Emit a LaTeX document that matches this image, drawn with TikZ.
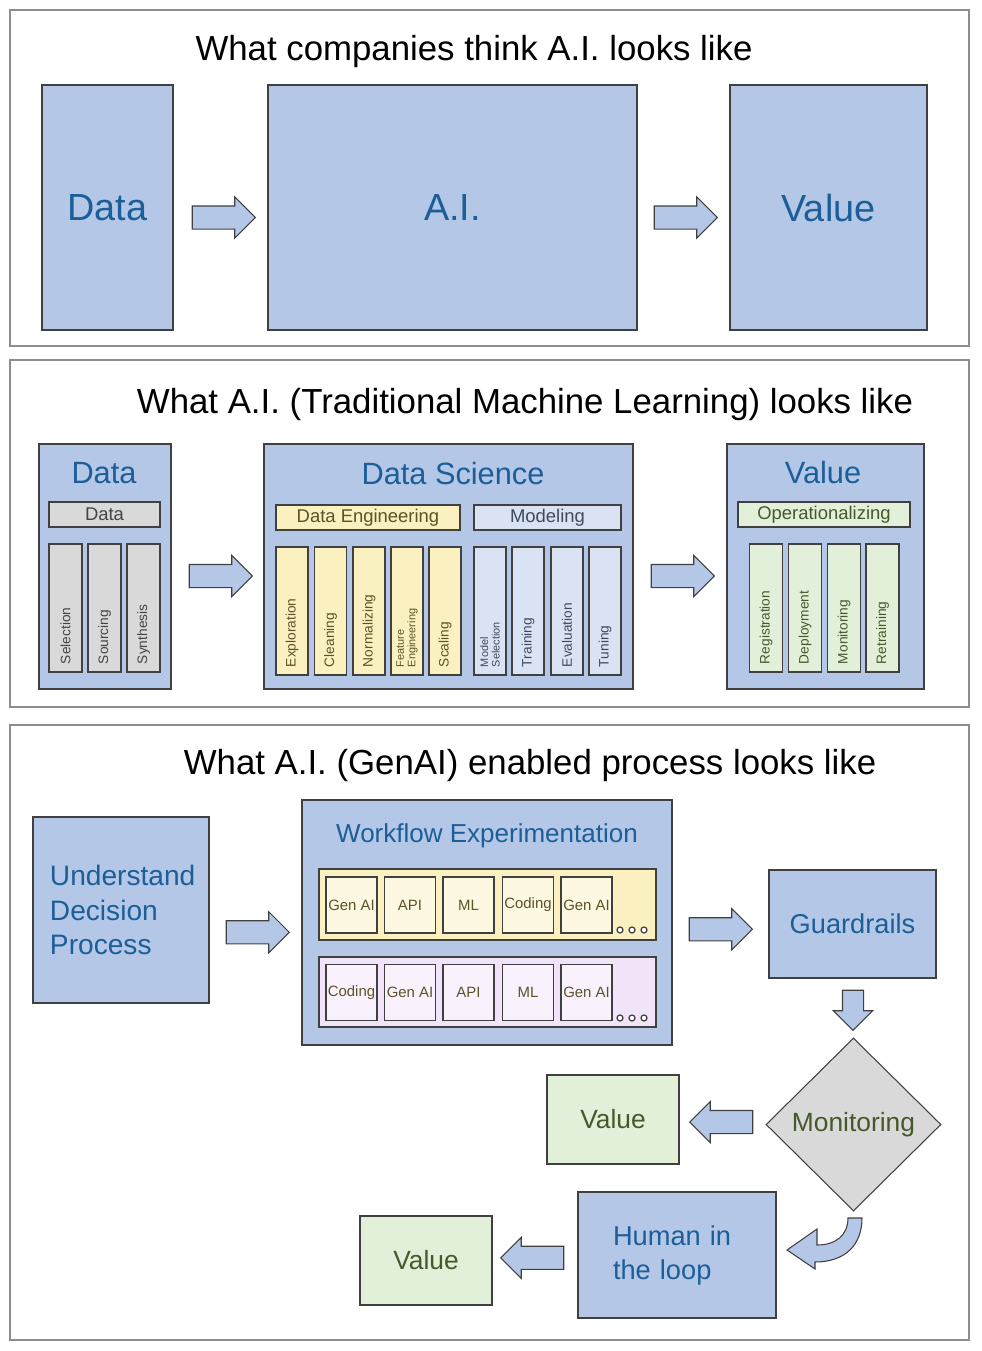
\documentclass[tikz,border=0pt]{standalone}
\usepackage{fontspec}
\setmainfont{Liberation Sans}
\usetikzlibrary{shapes.geometric, shapes.arrows, positioning, calc}

\definecolor{boxblue}{HTML}{B4C7E7}
\definecolor{textblue}{HTML}{1B5E98}
\definecolor{edgegray}{HTML}{404040}
\definecolor{framegray}{HTML}{8E8E8E}
\definecolor{bargray}{HTML}{D9D9D9}
\definecolor{baryellow}{HTML}{FAF0C0}
\definecolor{barlav}{HTML}{DAE3F3}
\definecolor{bargreen}{HTML}{E2EFD9}
\definecolor{rowpink}{HTML}{F1E4F8}
\definecolor{cellpink}{HTML}{F9F2FC}
\definecolor{cellyellow}{HTML}{FDF8E2}
\definecolor{labelolive}{HTML}{45592B}
\definecolor{labelbrown}{HTML}{5E5128}
\definecolor{labelslate}{HTML}{3E4A5E}
\definecolor{labelgray}{HTML}{444444}

\tikzset{
  panel/.style={draw=framegray, line width=1.2pt},
  heading/.style={font=\fontsize{19.8}{23}\selectfont},
  bigbox/.style={draw=edgegray, fill=boxblue, line width=0.6pt, inner sep=0pt, text=textblue},
  boxtitle/.style={text=textblue, font=\fontsize{17.5}{21}\selectfont},
  bar/.style={draw=edgegray, line width=0.6pt, minimum height=5mm, inner sep=0pt, font=\fontsize{10.5}{12}\selectfont},
  colbox/.style={draw=edgegray, line width=0.6pt, rotate=90, minimum width=25.6mm, minimum height=6.6mm,
    inner xsep=1.6mm, inner ysep=0pt, text width=22.4mm, align=left, font=\fontsize{7.8}{9}\selectfont},
  smalltwo/.style={font=\fontsize{6.2}{6.6}\selectfont},
  cell/.style={draw=edgegray, line width=0.6pt, minimum width=10.2mm, minimum height=11.2mm, inner sep=0pt,
    text=labelbrown, font=\fontsize{8.5}{10}\selectfont},
  greenbox/.style={draw=edgegray, fill=bargreen, line width=0.6pt, minimum width=26.4mm, minimum height=17.8mm,
    text=labelolive, font=\fontsize{15}{18}\selectfont},
  blockarrow/.style={single arrow, draw=edgegray, fill=boxblue, line width=0.6pt, inner sep=2.2mm,
    single arrow head extend=1.8mm, minimum height=12.6mm},
  dotring/.style={draw=edgegray, fill=white, line width=0.7pt}
}

\begin{document}
\begin{tikzpicture}[x=0.2mm, y=-0.2mm]
\useasboundingbox (0,0) rectangle (981,1351);

% first panel
\draw[panel] (10,10) rectangle (969,346);
\node[heading] (head1) at (474,52) {What companies think A.I. looks like};
\node[bigbox, minimum width=26.2mm, minimum height=49mm, font=\fontsize{21.5}{25}\selectfont] (data1) at (107.5,207.5) {Data};
\node[bigbox, minimum width=73.8mm, minimum height=49mm, font=\fontsize{21.5}{25}\selectfont] (ai1) at (452.5,207.5) {A.I.};
\node[bigbox, minimum width=39.4mm, minimum height=49mm, font=\fontsize{21.5}{25}\selectfont] (val1) at (828.5,207.5) {Value};
\node[blockarrow] (arr1a) at ($(data1.east)!0.5!(ai1.west)$) [xshift=-0.5mm, yshift=-2mm] {};
\node[blockarrow] (arr1b) at ($(ai1.east)!0.5!(val1.west)$) [xshift=-0.7mm, yshift=-2mm] {};

% second panel
\draw[panel] (10,360) rectangle (969,707);
\node[heading] (head2) at (525,404) {What A.I. (Traditional Machine Learning) looks like};

\node[bigbox, minimum width=26.4mm, minimum height=49mm] (data2) at (105,566.5) {};
\node[boxtitle] (data2title) at (104,473) {Data};
\node[bar, fill=bargray, minimum width=22.2mm, text=labelgray] (databar) at (104.5,514.5) {Data};
\node[colbox, fill=bargray, text=labelgray] (sel) at (65.5,608) {Selection};
\node[colbox, fill=bargray, text=labelgray] (src) at (104.5,608) {Sourcing};
\node[colbox, fill=bargray, text=labelgray] (syn) at (143.5,608) {Synthesis};

\node[bigbox, minimum width=73.8mm, minimum height=49mm] (ds) at (448.5,566.5) {};
\node[boxtitle] (dstitle) at (453,474) {Data Science};
\node[bar, fill=baryellow, minimum width=36.8mm, text=labelbrown] (debar) at (368,517.5) {Data Engineering};
\node[bar, fill=barlav, minimum width=29.4mm, text=labelslate] (modbar) at (547.5,517.5) {Modeling};
\node[colbox, fill=baryellow, minimum height=6.4mm, text=labelbrown] (expl) at (292,611) {Exploration};
\node[colbox, fill=baryellow, minimum height=6.4mm, text=labelbrown] (clean) at (330.5,611) {Cleaning};
\node[colbox, fill=baryellow, minimum height=6.4mm, text=labelbrown] (norm) at (369,611) {Normalizing};
\node[colbox, fill=baryellow, minimum height=6.4mm, text=labelbrown, smalltwo] (feat) at (407,611) {Feature\\Engineering};
\node[colbox, fill=baryellow, minimum height=6.4mm, text=labelbrown] (scal) at (445,611) {Scaling};
\node[colbox, fill=barlav, minimum height=6.4mm, text=labelslate, smalltwo] (msel) at (490,611) {Model\\Selection};
\node[colbox, fill=barlav, minimum height=6.4mm, text=labelslate] (train) at (528,611) {Training};
\node[colbox, fill=barlav, minimum height=6.4mm, text=labelslate] (eval) at (567,611) {Evaluation};
\node[colbox, fill=barlav, minimum height=6.4mm, text=labelslate] (tune) at (605,611) {Tuning};

\node[bigbox, minimum width=39.4mm, minimum height=49mm] (val2) at (825.5,566.5) {};
\node[boxtitle] (val2title) at (823,473) {Value};
\node[bar, fill=bargreen, minimum width=34.4mm, text=labelolive] (opbar) at (824,514.5) {Operationalizing};
\node[colbox, fill=bargreen, text=labelolive] (reg) at (766,608) {Registration};
\node[colbox, fill=bargreen, text=labelolive] (dep) at (805,608) {Deployment};
\node[colbox, fill=bargreen, text=labelolive] (mon2) at (844,608) {Monitoring};
\node[colbox, fill=bargreen, text=labelolive] (retr) at (882.5,608) {Retraining};

\node[blockarrow] (arr2a) at ($(data2.east)!0.5!(ds.west)$) [xshift=-0.5mm, yshift=-1.9mm] {};
\node[blockarrow] (arr2b) at ($(ds.east)!0.5!(val2.west)$) [xshift=-0.6mm, yshift=-1.9mm] {};

% third panel
\draw[panel] (10,725) rectangle (969,1340);
\node[heading] (head3) at (530,765) {What A.I. (GenAI) enabled process looks like};

\node[bigbox, minimum width=35.2mm, minimum height=37.2mm, inner xsep=3.4mm, text width=28.4mm, align=left,
  font=\fontsize{16}{19.5}\selectfont] (udp) at (121,910) {Understand\\Decision\\Process};

\node[bigbox, minimum width=74mm, minimum height=49mm] (wf) at (487,922.5) {};
\node[text=textblue, font=\fontsize{14.8}{18}\selectfont] (wftitle) at (487,836) {Workflow Experimentation};

\node[draw=edgegray, fill=baryellow, line width=0.6pt, minimum width=67.4mm, minimum height=14.2mm] (yrow) at (487.5,904.5) {};
\node[cell, fill=cellyellow] (y1) at (351.5,905) {Gen AI};
\node[cell, fill=cellyellow] (y2) at (410,905) {API};
\node[cell, fill=cellyellow] (y3) at (468.5,905) {ML};
\node[cell, fill=cellyellow] (y4) at (528,905) {Coding};
\node[cell, fill=cellyellow] (y5) at (586.5,905) {Gen AI};
\draw[dotring] (620,930) circle[radius=0.6mm];
\draw[dotring] (632,930) circle[radius=0.6mm];
\draw[dotring] (644,930) circle[radius=0.6mm];

\node[draw=edgegray, fill=rowpink, line width=0.6pt, minimum width=67.4mm, minimum height=14mm] (prow) at (487.5,992) {};
\node[cell, fill=cellpink] (p1) at (351.5,992.5) {Coding};
\node[cell, fill=cellpink] (p2) at (410,992.5) {Gen AI};
\node[cell, fill=cellpink] (p3) at (468.5,992.5) {API};
\node[cell, fill=cellpink] (p4) at (528,992.5) {ML};
\node[cell, fill=cellpink] (p5) at (586.5,992.5) {Gen AI};
\draw[dotring] (620,1018) circle[radius=0.6mm];
\draw[dotring] (632,1018) circle[radius=0.6mm];
\draw[dotring] (644,1018) circle[radius=0.6mm];

\node[bigbox, minimum width=33.4mm, minimum height=21.6mm, font=\fontsize{15.5}{18}\selectfont] (guard) at (852.5,924) {Guardrails};
\node[diamond, draw=edgegray, fill=bargray, line width=0.6pt, minimum width=35mm, minimum height=34.6mm, inner sep=0pt,
  text=labelolive, font=\fontsize{15}{18}\selectfont] (mon) at (853.5,1124.5) {Monitoring};
\node[greenbox] (val3a) at (613,1119.5) {Value};
\node[bigbox, minimum width=39.6mm, minimum height=25.2mm, inner xsep=7mm, text width=25.6mm, align=left,
  font=\fontsize{15.5}{19.3}\selectfont] (hitl) at (677,1255) {Human in\\the loop};
\node[greenbox] (val3b) at (426,1260.5) {Value};

\node[blockarrow] (arr3a) at ($(udp.east)!0.5!(wf.west)$) [xshift=-0.7mm, yshift=-3.2mm] {};
\node[blockarrow] (arr3b) at ($(wf.east)!0.5!(guard.west)$) [xshift=-1.1mm, yshift=-1.2mm] {};
\node[blockarrow, shape border rotate=270, minimum height=8mm, inner sep=2mm] (arr3c) at ($(guard.south)!0.5!(mon.north)$) [yshift=0.6mm] {};
\node[blockarrow, shape border rotate=180] (arr3d) at ($(val3a.east)!0.5!(mon.west)$) [xshift=0.9mm] {};
\node[blockarrow, shape border rotate=180] (arr3e) at ($(val3b.east)!0.5!(hitl.west)$) [xshift=0.6mm] {};
% bent arrow from the diamond back to the human
\draw[draw=edgegray, fill=boxblue, line width=0.6pt] (848,1218) -- (862,1218)
  .. controls (862,1245) and (845,1262) .. (815,1262) -- (815,1269) -- (787,1250) -- (817,1229) -- (817,1245)
  .. controls (836,1245) and (848,1235) .. (848,1218) -- cycle;

\end{tikzpicture}
\end{document}
